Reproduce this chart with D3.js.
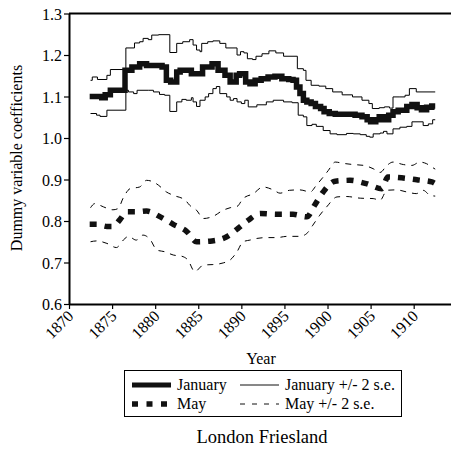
<!DOCTYPE html>
<html lang="en">
<head>
<meta charset="UTF-8">
<title>London Friesland</title>
<script src="https://cdn.jsdelivr.net/npm/d3@7"></script>
<style>
    body { margin: 0; background: #fff; }
    text { font-family: "Liberation Serif", "Times New Roman", serif; fill: #000; }
    .axis path, .axis line { stroke: #000; }
</style>
</head>
<body>
<div id="chartArea"></div>
<script>
    // January coefficient (stepped)
    const janYears = [1872.4, 1873.8, 1874.2, 1874.8, 1876.5, 1877.3, 1878.2, 1879.0, 1880.8, 1881.3, 1881.8, 1882.5, 1882.9, 1884.2, 1885.5, 1886.6, 1887.3, 1888.1, 1888.7, 1889.4, 1889.8, 1890.5, 1891.0, 1891.6, 1892.3, 1893.1, 1893.9, 1894.7, 1895.5, 1896.0, 1896.4, 1896.8, 1897.2, 1897.6, 1898.1, 1898.6, 1899.2, 1899.6, 1900.2, 1900.9, 1903.2, 1904.0, 1904.6, 1905.0, 1905.6, 1906.0, 1906.6, 1907.1, 1907.6, 1908.2, 1909.2, 1909.8, 1910.4, 1910.9, 1911.5, 1912.1, 1912.5];
    const janValues = [1.100, 1.097, 1.104, 1.115, 1.163, 1.171, 1.179, 1.175, 1.171, 1.139, 1.135, 1.159, 1.163, 1.155, 1.171, 1.179, 1.163, 1.151, 1.135, 1.151, 1.155, 1.135, 1.131, 1.139, 1.143, 1.147, 1.149, 1.143, 1.141, 1.139, 1.123, 1.107, 1.091, 1.087, 1.083, 1.076, 1.071, 1.063, 1.059, 1.057, 1.055, 1.051, 1.044, 1.039, 1.044, 1.051, 1.044, 1.055, 1.063, 1.067, 1.076, 1.081, 1.073, 1.068, 1.074, 1.077, 1.077];

    const janHiYears = [1872.5, 1872.7, 1873.3, 1874.4, 1874.8, 1876.6, 1877.6, 1878.2, 1878.6, 1879.2, 1879.6, 1880.4, 1881.7, 1882.5, 1883.2, 1884.0, 1884.4, 1884.8, 1885.2, 1885.4, 1886.1, 1886.7, 1887.5, 1888.2, 1889.5, 1889.9, 1890.3, 1890.7, 1891.3, 1891.7, 1892.4, 1893.2, 1894.0, 1894.9, 1896.5, 1897.2, 1897.5, 1898.1, 1899.0, 1899.8, 1900.6, 1901.7, 1902.9, 1904.0, 1904.8, 1905.2, 1906.0, 1906.6, 1907.2, 1907.6, 1908.4, 1909.0, 1909.5, 1910.3, 1912.5];
    const janHiValues = [1.139, 1.147, 1.141, 1.151, 1.165, 1.217, 1.229, 1.232, 1.240, 1.237, 1.248, 1.249, 1.206, 1.228, 1.232, 1.237, 1.224, 1.212, 1.208, 1.228, 1.232, 1.234, 1.228, 1.217, 1.200, 1.208, 1.205, 1.191, 1.189, 1.197, 1.203, 1.210, 1.205, 1.197, 1.167, 1.163, 1.139, 1.127, 1.125, 1.119, 1.111, 1.104, 1.099, 1.091, 1.083, 1.071, 1.073, 1.075, 1.072, 1.099, 1.099, 1.103, 1.119, 1.111, 1.111];

    const janLoYears = [1872.5, 1873.2, 1873.6, 1874.4, 1876.6, 1876.9, 1877.5, 1877.9, 1879.2, 1879.8, 1880.5, 1881.1, 1881.7, 1882.5, 1883.1, 1883.6, 1884.2, 1884.4, 1884.8, 1885.2, 1885.8, 1886.2, 1886.7, 1887.1, 1887.5, 1888.3, 1888.7, 1889.1, 1889.5, 1890.0, 1890.4, 1890.8, 1891.8, 1892.9, 1893.7, 1894.9, 1895.9, 1896.6, 1897.2, 1897.6, 1898.2, 1898.7, 1899.5, 1900.3, 1901.1, 1902.2, 1903.0, 1903.8, 1904.5, 1904.9, 1905.3, 1906.1, 1906.5, 1906.9, 1907.6, 1908.4, 1909.2, 1909.8, 1911.1, 1911.7, 1912.2, 1912.5];
    const janLoValues = [1.059, 1.055, 1.052, 1.067, 1.115, 1.111, 1.107, 1.115, 1.115, 1.111, 1.105, 1.103, 1.064, 1.087, 1.093, 1.091, 1.097, 1.087, 1.076, 1.091, 1.099, 1.107, 1.119, 1.124, 1.107, 1.099, 1.091, 1.095, 1.087, 1.083, 1.091, 1.075, 1.080, 1.087, 1.091, 1.087, 1.085, 1.055, 1.051, 1.030, 1.033, 1.028, 1.018, 1.010, 1.008, 1.011, 1.010, 1.008, 1.004, 1.002, 1.010, 1.012, 1.016, 1.010, 1.022, 1.026, 1.028, 1.039, 1.030, 1.034, 1.044, 1.044];

    // May coefficient (smooth)
    const mayYears = [1872.4, 1873.2, 1874.4, 1875.1, 1875.9, 1876.7, 1877.8, 1879.0, 1880.6, 1882.1, 1883.7, 1884.8, 1886.6, 1888.3, 1889.6, 1890.8, 1892.2, 1894.1, 1896.0, 1897.6, 1898.5, 1899.5, 1900.9, 1902.6, 1904.5, 1906.3, 1907.0, 1908.6, 1910.5, 1912.1, 1912.5];
    const mayValues = [0.792, 0.792, 0.787, 0.787, 0.803, 0.822, 0.822, 0.824, 0.810, 0.792, 0.774, 0.750, 0.752, 0.762, 0.782, 0.802, 0.818, 0.816, 0.816, 0.810, 0.838, 0.870, 0.896, 0.898, 0.890, 0.878, 0.906, 0.904, 0.899, 0.894, 0.890];

    const mayHiYears = [1872.5, 1873.0, 1874.0, 1875.1, 1875.7, 1876.3, 1877.1, 1878.2, 1879.0, 1879.8, 1880.4, 1881.3, 1882.1, 1883.5, 1884.0, 1884.8, 1885.6, 1886.7, 1887.9, 1888.7, 1889.5, 1890.2, 1891.4, 1892.5, 1893.7, 1894.5, 1895.6, 1896.8, 1898.0, 1898.7, 1899.5, 1900.1, 1900.9, 1901.8, 1903.0, 1904.2, 1905.3, 1906.1, 1906.9, 1907.6, 1908.8, 1909.8, 1910.7, 1911.5, 1912.1, 1912.5];
    const mayHiValues = [0.832, 0.842, 0.834, 0.827, 0.830, 0.856, 0.878, 0.882, 0.898, 0.894, 0.886, 0.870, 0.862, 0.850, 0.838, 0.826, 0.806, 0.811, 0.826, 0.832, 0.835, 0.854, 0.866, 0.882, 0.875, 0.867, 0.874, 0.875, 0.870, 0.886, 0.906, 0.922, 0.942, 0.939, 0.936, 0.934, 0.926, 0.917, 0.934, 0.942, 0.936, 0.934, 0.942, 0.938, 0.930, 0.925];

    const mayLoYears = [1872.5, 1873.2, 1874.4, 1875.5, 1876.3, 1876.9, 1877.8, 1878.6, 1879.4, 1880.2, 1881.1, 1882.1, 1883.1, 1883.8, 1884.6, 1885.6, 1886.7, 1887.9, 1888.7, 1889.5, 1890.2, 1891.0, 1891.8, 1892.9, 1894.1, 1895.3, 1896.8, 1897.6, 1898.3, 1899.1, 1899.9, 1901.1, 1902.2, 1903.8, 1905.3, 1906.1, 1906.9, 1908.0, 1909.2, 1910.3, 1911.1, 1911.9, 1912.5];
    const mayLoValues = [0.750, 0.752, 0.746, 0.736, 0.754, 0.763, 0.754, 0.766, 0.756, 0.730, 0.726, 0.718, 0.715, 0.706, 0.678, 0.694, 0.695, 0.699, 0.706, 0.726, 0.750, 0.754, 0.758, 0.760, 0.760, 0.763, 0.763, 0.770, 0.790, 0.814, 0.834, 0.858, 0.859, 0.855, 0.854, 0.850, 0.874, 0.875, 0.870, 0.866, 0.874, 0.862, 0.860];

    const yTicks = [0.6, 0.7, 0.8, 0.9, 1.0, 1.1, 1.2, 1.3];
    const xTicks = [1870, 1875, 1880, 1885, 1890, 1895, 1900, 1905, 1910];

    const W = 451, H = 453;
    const margin = { top: 13.5, right: 0, bottom: 149, left: 69 };

    const svg = d3.select('#chartArea').append('svg')
        .attr('width', W)
        .attr('height', H);

    const xScale = d3.scaleLinear()
        .domain([1870, 1914.33])
        .range([margin.left, W - margin.right]);

    const yScale = d3.scaleLinear()
        .domain([0.6, 1.3])
        .range([H - margin.bottom, margin.top]);

    const zip = (xs, ys) => xs.map((x, i) => [x, ys[i]]);

    // top frame line
    svg.append('line')
        .attr('x1', xScale(1870)).attr('x2', W)
        .attr('y1', yScale(1.3)).attr('y2', yScale(1.3))
        .attr('stroke', '#000').attr('stroke-width', 2);

    // axes
    const yAxis = svg.append('g')
        .attr('class', 'axis')
        .attr('transform', `translate(${margin.left},0)`)
        .call(d3.axisLeft(yScale).tickValues(yTicks).tickFormat(d3.format('.1f')).tickSize(5).tickSizeOuter(0));
    yAxis.select('.domain').attr('stroke-width', 2);
    yAxis.selectAll('.tick line').attr('stroke-width', 1.2);
    yAxis.selectAll('text').attr('font-size', '16px').attr('x', -7).attr('dy', '0.35em');

    const xAxis = svg.append('g')
        .attr('class', 'axis')
        .attr('transform', `translate(0,${yScale(0.6)})`)
        .call(d3.axisBottom(xScale).tickValues(xTicks).tickFormat(d3.format('d')).tickSize(5).tickSizeOuter(0));
    xAxis.select('.domain').attr('stroke-width', 2);
    xAxis.selectAll('.tick line').attr('stroke-width', 1.2);
    xAxis.selectAll('text')
        .attr('font-size', '16px')
        .attr('text-anchor', 'end')
        .attr('x', 0).attr('y', 0).attr('dy', 0)
        .attr('transform', 'translate(5,13) rotate(-45)');

    const stepLine = d3.line()
        .x(d => xScale(d[0]))
        .y(d => yScale(d[1]))
        .curve(d3.curveStepAfter);

    const smoothLine = d3.line()
        .x(d => xScale(d[0]))
        .y(d => yScale(d[1]))
        .curve(d3.curveMonotoneX);

    // January band
    [zip(janHiYears, janHiValues), zip(janLoYears, janLoValues)].forEach(s => {
        svg.append('path').datum(s)
            .attr('d', stepLine)
            .attr('fill', 'none').attr('stroke', '#000').attr('stroke-width', 1);
    });
    svg.append('path').datum(zip(janYears, janValues))
        .attr('d', stepLine)
        .attr('fill', 'none').attr('stroke', '#111')
        .attr('stroke-width', 5.5).attr('stroke-linejoin', 'miter');

    // May band
    [zip(mayHiYears, mayHiValues), zip(mayLoYears, mayLoValues)].forEach(s => {
        svg.append('path').datum(s)
            .attr('d', smoothLine)
            .attr('fill', 'none').attr('stroke', '#000').attr('stroke-width', 1)
            .attr('stroke-dasharray', '6,6');
    });
    svg.append('path').datum(zip(mayYears, mayValues))
        .attr('d', smoothLine)
        .attr('fill', 'none').attr('stroke', '#111')
        .attr('stroke-width', 5.5).attr('stroke-dasharray', '7,8');

    // axis titles
    svg.append('text')
        .attr('transform', 'translate(22,158) rotate(-90)')
        .attr('text-anchor', 'middle')
        .attr('font-size', '16px')
        .text('Dummy variable coefficients');

    svg.append('text')
        .attr('x', 261).attr('y', 364)
        .attr('text-anchor', 'middle')
        .attr('font-size', '16px')
        .text('Year');

    // legend
    const legend = svg.append('g');
    legend.append('rect')
        .attr('x', 124.5).attr('y', 370.5).attr('width', 277).attr('height', 46)
        .attr('fill', 'none').attr('stroke', '#000').attr('stroke-width', 1);

    const legItems = [
        { x: 132, y: 385, w: 5, dash: null, label: 'January' },
        { x: 132, y: 404, w: 5.5, dash: '6,8.5', label: 'May' },
        { x: 240, y: 385, w: 1, dash: null, label: 'January +/- 2 s.e.' },
        { x: 240, y: 404, w: 1, dash: '5,7', label: 'May +/- 2 s.e.' }
    ];
    legItems.forEach(d => {
        legend.append('line')
            .attr('x1', d.x).attr('x2', d.x + 39)
            .attr('y1', d.y).attr('y2', d.y)
            .attr('stroke', '#111').attr('stroke-width', d.w)
            .attr('stroke-dasharray', d.dash);
        legend.append('text')
            .attr('x', d.x + 45).attr('y', d.y + 4.5)
            .attr('font-size', '16px')
            .text(d.label);
    });

    svg.append('text')
        .attr('x', 262).attr('y', 443)
        .attr('text-anchor', 'middle')
        .attr('font-size', '18.5px')
        .text('London Friesland');
</script>
</body>
</html>
